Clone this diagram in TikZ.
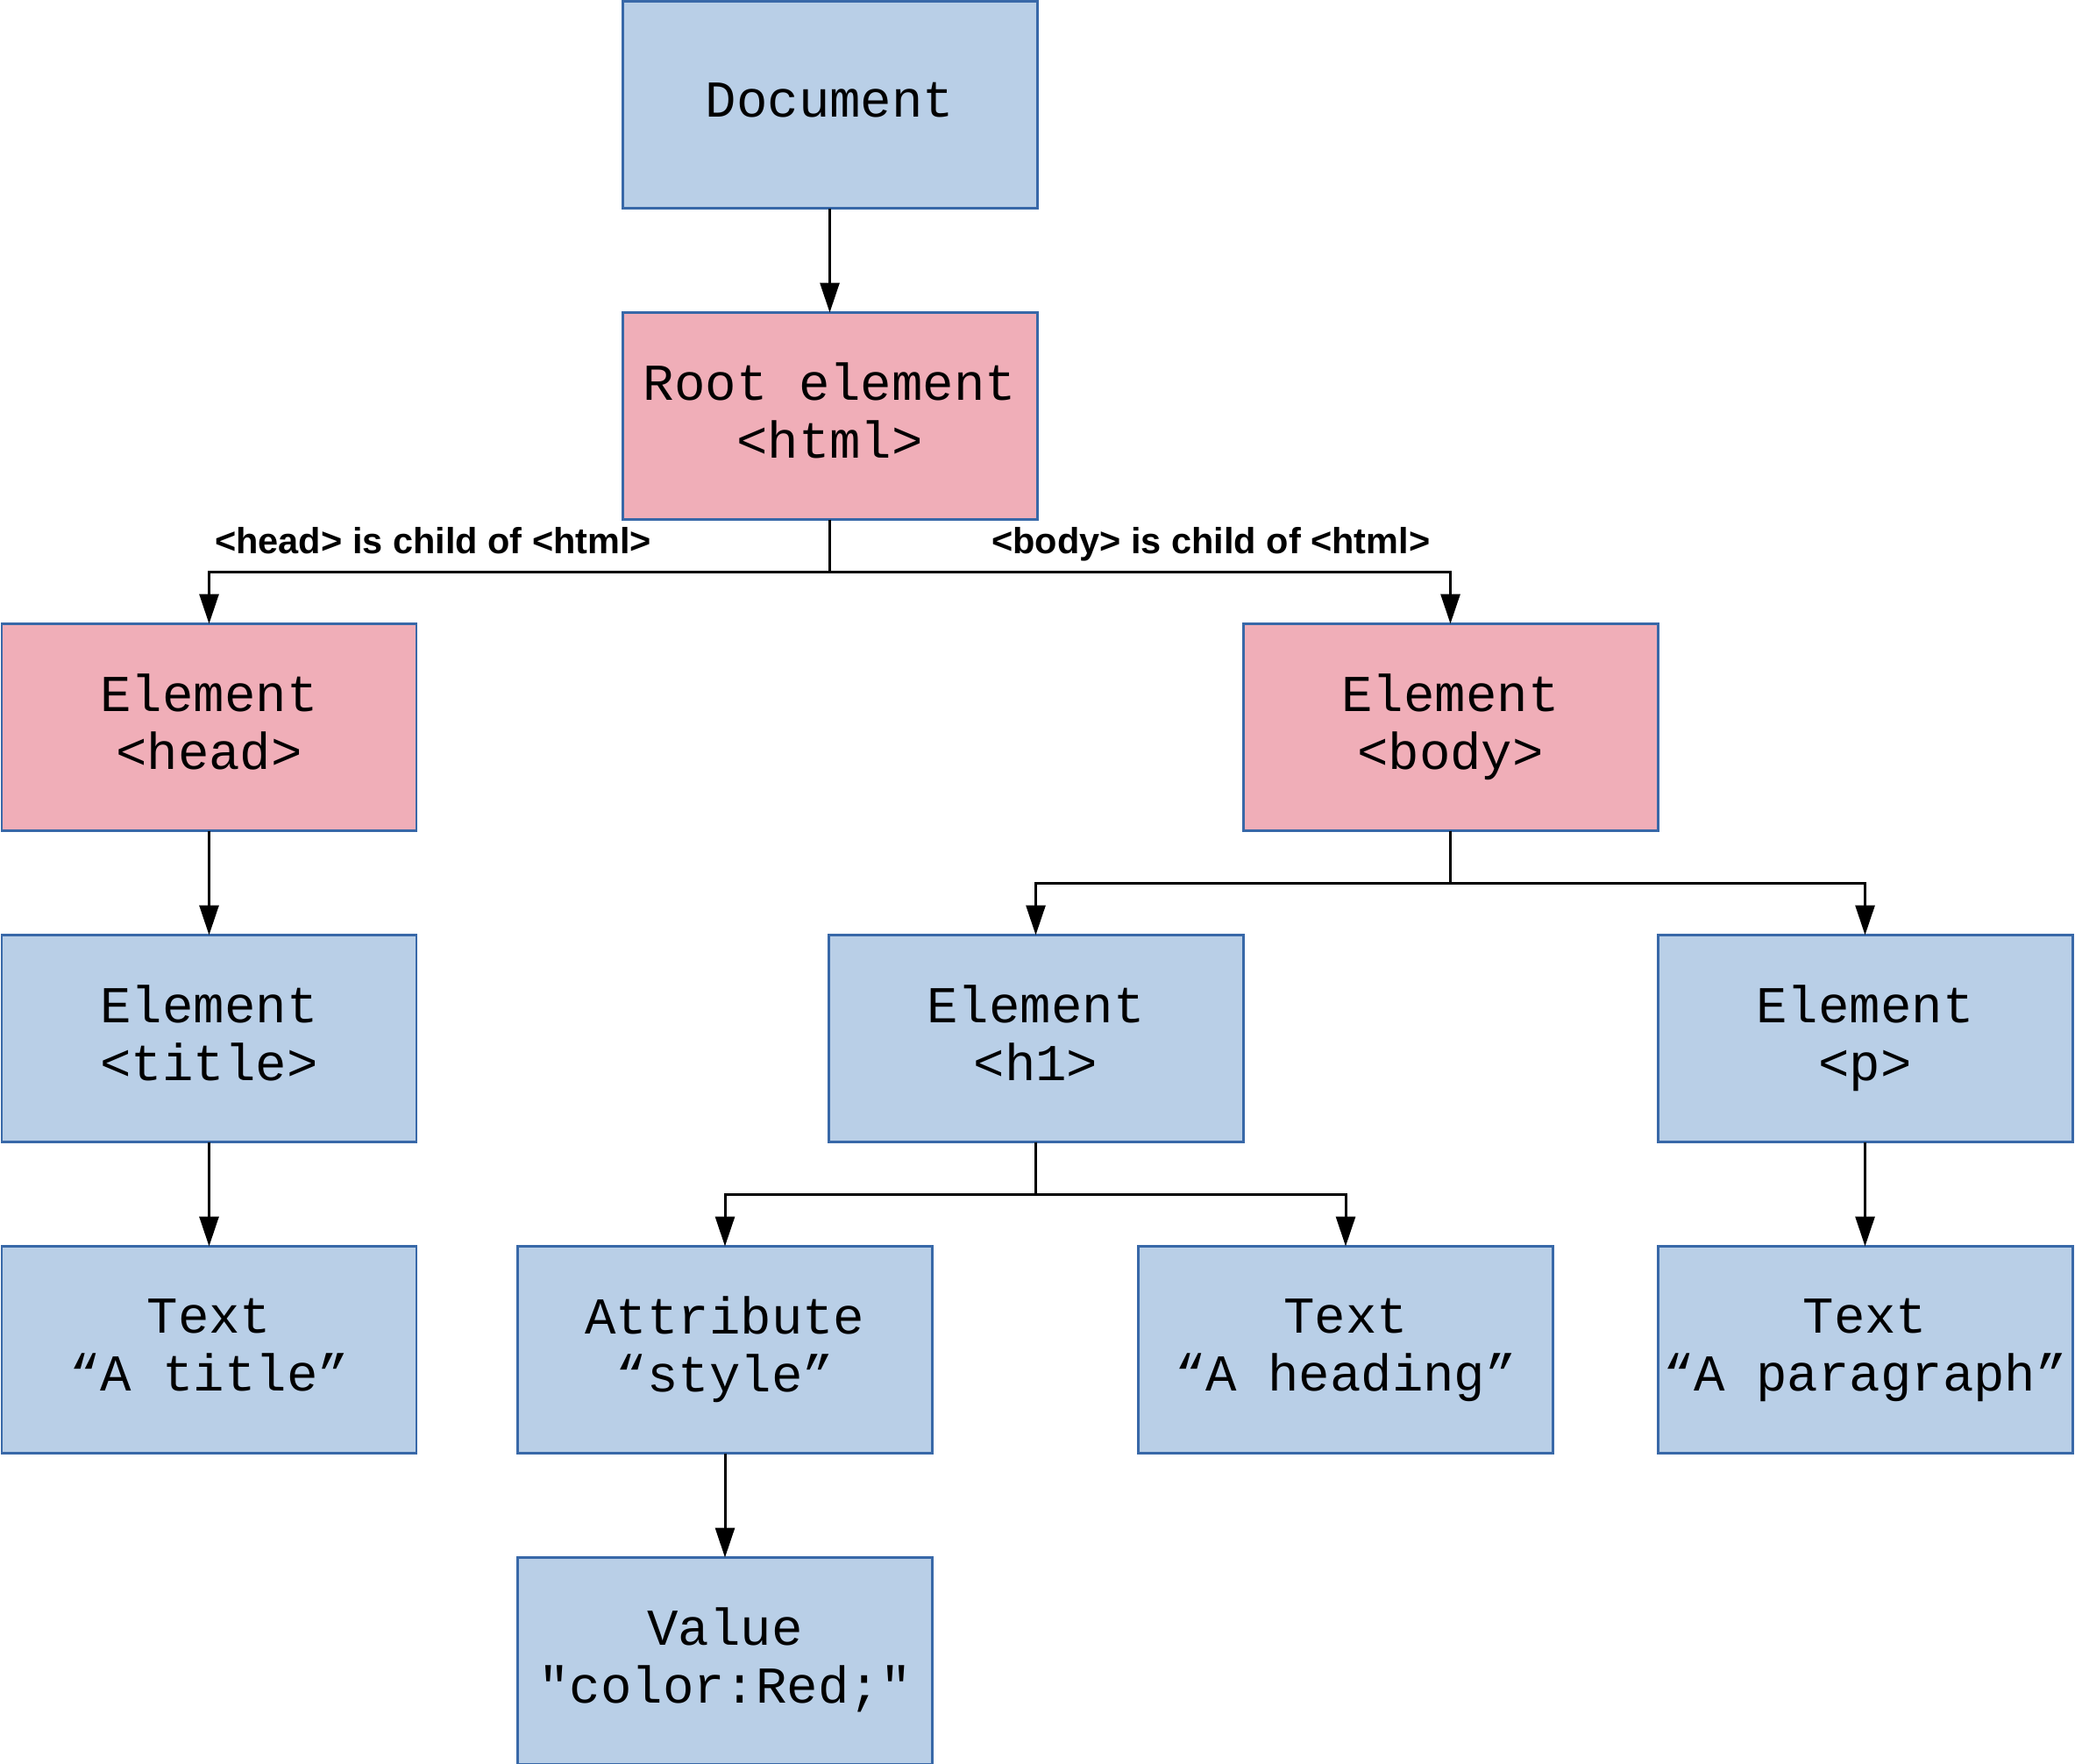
\documentclass[tikz,border=0pt]{standalone}
\usepackage{fontspec}
\newfontfamily\domfont{Liberation Mono}
\newfontfamily\lblfont{Liberation Sans}
\usepackage{tikz}
\usetikzlibrary{positioning,arrows.meta}
\definecolor{boxblue}{RGB}{185,207,231}
\definecolor{boxpink}{RGB}{240,174,184}
\definecolor{boxline}{RGB}{56,104,168}

\begin{document}
\begin{tikzpicture}[DOM/.style={rectangle, draw=boxline, fill=boxblue, line width=0.85pt, minimum width=4.73cm, minimum height=2.36cm, inner sep=0pt, outer sep=0pt, align=center, font=\domfont\fontsize{16.8}{18.8}\selectfont, execute at end node={\vphantom{y}}},
TAG/.style={DOM, fill=boxpink},
LBL/.style={font=\lblfont\bfseries\fontsize{11.8}{14}\selectfont, inner sep=0pt},
arr/.style={-{Triangle[length=0.34cm, width=0.22cm]}, line width=0.85pt},
node distance=1.19cm]
\useasboundingbox (0,0) rectangle (23.67,-20.12);
%Nodes
\node[DOM] (1) at (9.465,-1.195) {Document};
\node[TAG] (2) [below=of 1] {Root element\\<html>};
\node[TAG] (3) [below left=1.19cm and 2.35cm of 2] {Element\\<head>};
\node[TAG] (4) [below right=1.19cm and 2.35cm of 2] {Element\\<body>};
\node[DOM] (5) [below=of 3] {Element\\<title>};
\node[DOM] (6) [below=of 5] {Text\\“A title”};
\node[DOM] (7) [below left=1.19cm and 0cm of 4] {Element\\<h1>};
\node[DOM] (8) [below right=1.19cm and 0cm of 4] {Element\\<p>};
\node[DOM] (9) [below=of 7, xshift=-3.545cm] {Attribute\\“style”};
\node[DOM] (10) [below=of 7, xshift=3.535cm] {Text\\“A heading”};
\node[DOM] (11) [below=of 8] {Text\\“A paragraph”};
\node[DOM] (12) [below=of 9] {Value\\"color:Red;"};

%Labels
\node[LBL, anchor=base west] (h) at (2.446,-6.317) {<head> is child of <html>};
\node[LBL, anchor=base east] (b) at (16.32,-6.317) {<body> is child of <html>};

%Lines
\draw[arr] (1.south) -- (2.north);
\draw[arr] (2.south) -- ++(0,-0.595) -| (3.north);
\draw[arr] (2.south) -- ++(0,-0.595) -| (4.north);
\draw[arr] (3.south) -- (5.north);
\draw[arr] (5.south) -- (6.north);
\draw[arr] (4.south) -- ++(0,-0.595) -| (7.north);
\draw[arr] (4.south) -- ++(0,-0.595) -| (8.north);
\draw[arr] (7.south) -- ++(0,-0.595) -| (9.north);
\draw[arr] (7.south) -- ++(0,-0.595) -| (10.north);
\draw[arr] (8.south) -- (11.north);
\draw[arr] (9.south) -- (12.north);

\end{tikzpicture}
\end{document}
